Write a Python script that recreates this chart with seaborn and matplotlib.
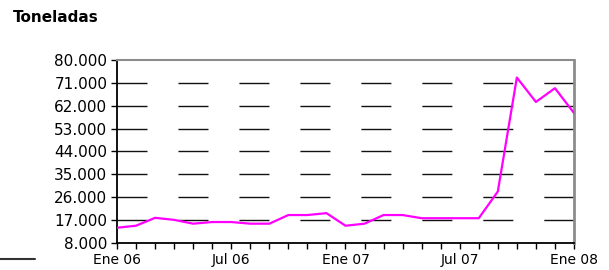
import pandas as pd
import matplotlib.pyplot as plt
import seaborn as sns
from matplotlib.ticker import FuncFormatter
from matplotlib.lines import Line2D

# monthly values, Ene 06 .. Ene 08 (toneladas)
months = list(range(25))
toneladas = [14000, 14800, 17900, 17100, 15600, 16250, 16250, 15600, 15600,
             19000, 19000, 19750, 14800, 15600, 19000, 19000, 17750, 17750,
             17750, 17750, 28250, 73100, 63500, 68900, 59150]
y_ticks = [8000, 17000, 26000, 35000, 44000, 53000, 62000, 71000, 80000]
tick_pos = [0, 6, 12, 18, 24]
tick_labels = ["Ene 06", "Jul 06", "Ene 07", "Jul 07", "Ene 08"]

df = pd.DataFrame({"mes": months, "toneladas": toneladas})

sns.set_style("white")
plt.rcParams['font.family'] = ['DejaVu Sans']
plt.rcParams['text.color'] = 'black'
plt.rcParams['xtick.color'] = 'black'
plt.rcParams['ytick.color'] = 'black'

fig = plt.figure(figsize=(6.09, 2.70), dpi=100)
ax = fig.add_axes([0.1921, 0.1, 0.7504, 0.6778])

# dashed gridlines
for v in y_ticks[1:-1]:
    ax.axhline(v, color="#111111", lw=1.0, dashes=(21.6, 22.3), zorder=1)

sns.lineplot(x="mes", y="toneladas", data=df, color="#FF00FF", lw=1.6, ax=ax, zorder=3)

ax.set_xlim(0, 24)
ax.set_ylim(8000, 80000)
ax.set_yticks(y_ticks)
ax.yaxis.set_major_formatter(FuncFormatter(lambda v, p: f"{int(v):,}".replace(",", ".")))
ax.set_xticks(months, minor=True)
ax.set_xticks(tick_pos)
ax.set_xticklabels(tick_labels)
ax.tick_params(axis="x", which="both", direction="out", length=4, width=1, color="black",
               labelsize=10, pad=3, bottom=True)
ax.tick_params(axis="y", direction="out", length=4, width=1, color="black", labelsize=11, pad=3, left=True)
ax.set_xlabel("")
ax.set_ylabel("")

ax.spines["left"].set_color("black")
ax.spines["left"].set_linewidth(1.3)
ax.spines["bottom"].set_color("black")
ax.spines["bottom"].set_linewidth(1.3)
ax.spines["top"].set_color("#8c8c8c")
ax.spines["top"].set_linewidth(1.5)
ax.spines["right"].set_color("#8c8c8c")
ax.spines["right"].set_linewidth(2)

fig.text(0.021, 0.935, "Toneladas", fontsize=11, fontweight="bold", va="center", ha="left")

# legend stub at bottom left
fig.add_artist(Line2D([0.0, 0.057], [0.041, 0.041], color="#333333", lw=1.5))

fig.savefig("out.png", dpi=100)
